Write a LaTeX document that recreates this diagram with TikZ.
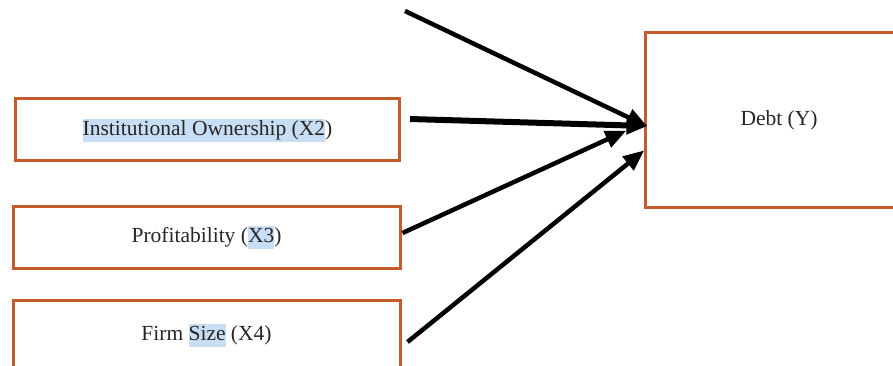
\documentclass[tikz,border=0pt]{standalone}
\usepackage{fontspec}
\setmainfont{Liberation Serif}
\usetikzlibrary{arrows.meta}
\definecolor{boxorange}{RGB}{197,90,45}
\definecolor{hlblue}{RGB}{200,222,244}
\newcommand{\hlt}[1]{{\setlength{\fboxsep}{0pt}\colorbox{hlblue}{\rule[-6pt]{0pt}{23pt}#1}}}
\begin{document}
\begin{tikzpicture}[x=1pt,y=-1pt,
  varbox/.style={draw=boxorange, line width=3pt, fill=white, inner sep=0pt,
    font=\fontsize{21.5}{25}\selectfont, text=black!85},
  conn/.style={line width=4.5pt, -{Triangle[length=21pt,width=17pt]}, shorten >=-1pt}]
\useasboundingbox (0,0) rectangle (893,366);
\node[varbox, minimum width=384pt, minimum height=62pt] (x2) at (207.5,130) {\hlt{Institutional Ownership (X2}\hbox{)}};
\node[varbox, minimum width=387pt, minimum height=62pt] (x3) at (206.5,237) {Profitability (\hlt{X3})};
\node[varbox, minimum width=387pt, minimum height=70pt] (x4) at (206.5,335) {Firm \hlt{Size} (X4)};
\node[varbox, minimum width=268pt, minimum height=174pt] (y) at (779,120) {Debt (Y)};
\coordinate (s1) at (405,11);
\coordinate (t1) at ([shift={(3,6)}]y.west);
\coordinate (t3) at ([shift={(-18,11)}]y.west);
\coordinate (t4) at ([shift={(0,31)}]y.west);
\draw[conn] (s1) -- (t1);
\draw[conn, line width=6pt] ([shift={(9,-11)}]x2.east) -- (t1);
\draw[conn] ([shift={(1,-4)}]x3.east) -- (t3);
\draw[conn] ([shift={(6,7)}]x4.east) -- (t4);
\end{tikzpicture}
\end{document}
